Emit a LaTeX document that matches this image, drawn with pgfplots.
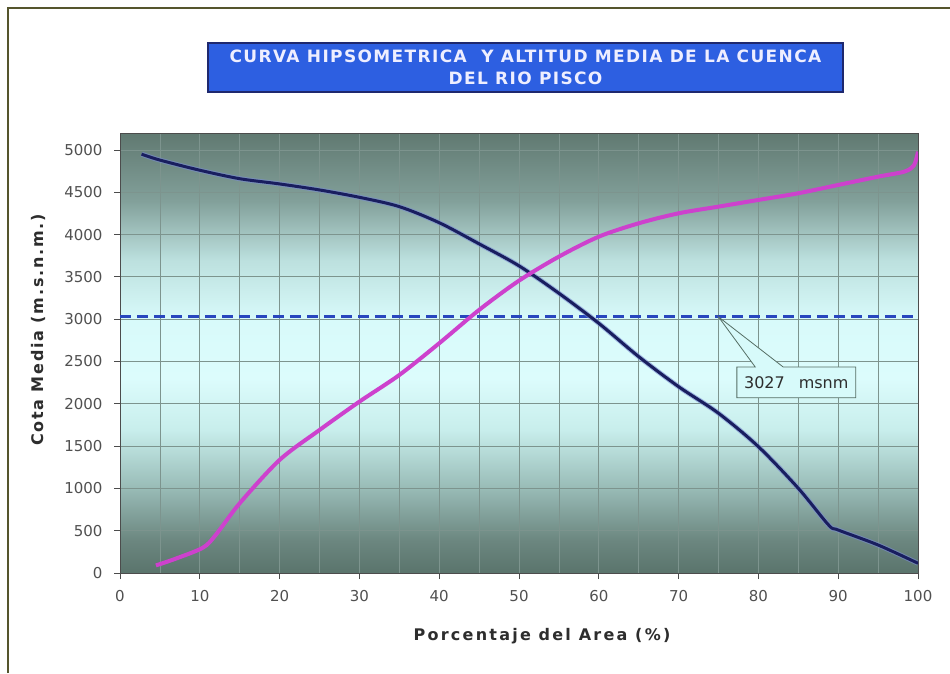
\documentclass[border=0pt]{standalone}
\usepackage{pgfplots}
\usepackage{pgfplotstable}
\pgfplotsset{compat=1.18}
\usepackage{fontspec}
\setmainfont{DejaVu Sans}
\newfontfamily\spacedfont[LetterSpace=14]{DejaVu Sans}
\newfontfamily\yspacedfont[LetterSpace=11]{DejaVu Sans}
\newfontfamily\titlefont[LetterSpace=8]{DejaVu Sans}

\definecolor{s0}{RGB}{90,116,108}
\definecolor{s1}{RGB}{108,135,128}
\definecolor{s2}{RGB}{152,187,182}
\definecolor{s3}{RGB}{200,238,236}
\definecolor{s4}{RGB}{220,252,252}
\definecolor{s5}{RGB}{216,250,250}
\definecolor{s6}{RGB}{188,224,222}
\definecolor{s7}{RGB}{130,160,154}
\definecolor{s8}{RGB}{96,121,113}
\pgfdeclareverticalshading{plotbg}{100bp}{color(0bp)=(s0); color(25bp)=(s0); color(28.8bp)=(s1); color(34.6bp)=(s2); color(41.3bp)=(s3); color(47.1bp)=(s4); color(53.8bp)=(s5); color(60.6bp)=(s6); color(67.3bp)=(s7); color(75bp)=(s8); color(100bp)=(s8)}

\definecolor{gridc}{RGB}{125,148,142}
\definecolor{tickc}{RGB}{80,80,80}
\definecolor{labelc}{RGB}{45,45,45}
\definecolor{navyc}{RGB}{25,30,95}
\definecolor{navyhalo}{RGB}{120,140,210}
\definecolor{magc}{RGB}{205,65,205}
\definecolor{dashc}{RGB}{40,70,190}
\definecolor{titleblue}{RGB}{45,95,225}
\definecolor{titleborder}{RGB}{30,40,110}
\definecolor{titletext}{RGB}{238,238,255}
\definecolor{framec}{RGB}{85,85,45}
\definecolor{calloutfill}{RGB}{215,250,250}
\definecolor{calloutborder}{RGB}{85,110,100}

\pgfplotstableread{
x y
2.7 4950
5 4880
10 4760
15 4660
20 4598
25 4527
30 4440
35 4330
40 4140
45 3890
50 3630
55 3306
60 2951
65 2557
70 2202
75 1888
80 1493
85 1001
88.8 567
90 508
95 331
100 115
}\navydata

\pgfplotstableread{
x y
4.5 90
7 170
10.4 300
12 450
15 824
20 1336
25 1690
30 2025
35 2340
40 2715
45 3109
50 3455
55 3739
60 3975
65 4133
70 4251
75 4330
80 4409
85 4488
90 4586
95 4684
98.3 4744
99.5 4820
100 4980
}\magdata

\begin{document}
\begin{tikzpicture}
\path[use as bounding box] (0pt,0pt) rectangle (950pt,673pt);
\fill[white] (0pt,0pt) rectangle (950pt,673pt);
\draw[framec, line width=2.5pt] (8pt,0pt) -- (8pt,665pt) -- (950pt,665pt);

\draw[fill=titleblue, draw=titleborder, line width=1.5pt] (208pt,581pt) rectangle (843pt,630pt);
\node[align=center, text=titletext, font=\titlefont\bfseries\fontsize{17}{22}\selectfont] at (525.5pt,605.5pt) {CURVA HIPSOMETRICA\ \ Y ALTITUD MEDIA DE LA CUENCA\\DEL RIO PISCO};

\begin{axis}[
  at={(120pt,100pt)}, anchor=south west, scale only axis,
  width=798pt, height=440pt,
  xmin=0, xmax=100, ymin=0, ymax=5200,
  xtick={0,10,...,100}, ytick={0,500,...,5000},
  minor x tick num=1, grid=both,
  major grid style={draw=gridc, line width=0.8pt},
  minor grid style={draw=gridc, line width=0.8pt},
  minor tick length=0pt,
  tick align=outside, major tick length=6pt,
  xtick pos=left, ytick pos=left,
  tick style={draw=black!70, line width=0.8pt},
  axis line style={draw=black!70, line width=0.8pt},
  axis background/.style={shading=plotbg},
  ticklabel style={font=\fontsize{15}{17}\selectfont, text=tickc},
  /pgf/number format/assume math mode=true,
  /pgf/number format/1000 sep={},
  yticklabel style={xshift=-8pt},
  xticklabel style={yshift=-8pt},
]
\addplot[dashc, line width=3pt, dash pattern=on 11pt off 6pt] coordinates {(0,3027) (100,3027)};
\addplot[navyhalo, opacity=0.6, line width=5pt, smooth, tension=0.5] table[x=x,y=y] {\navydata};
\addplot[navyc, line width=3pt, smooth, tension=0.5] table[x=x,y=y] {\navydata};
\addplot[magc, line width=4pt, smooth, tension=0.5] table[x=x,y=y] {\magdata};
\draw[draw=calloutborder, fill=calloutfill, line width=0.8pt] (axis cs:77.3,2435) -- (axis cs:79.6,2435) -- (axis cs:75,3027) -- (axis cs:83.1,2435) -- (axis cs:92.2,2435) -- (axis cs:92.2,2070) -- (axis cs:77.3,2070) -- cycle;
\node[text=labelc, font=\fontsize{16}{18}\selectfont] at (axis cs:84.75,2252) {3027\hspace{14pt}msnm};
\end{axis}

\node[text=labelc, font=\spacedfont\bfseries\fontsize{16}{18}\selectfont] at (542pt,37pt) {Porcentaje del Area (\%)};
\node[text=labelc, rotate=90, font=\yspacedfont\bfseries\fontsize{16}{18}\selectfont] at (38pt,343pt) {Cota Media (m.s.n.m.)};
\end{tikzpicture}
\end{document}
